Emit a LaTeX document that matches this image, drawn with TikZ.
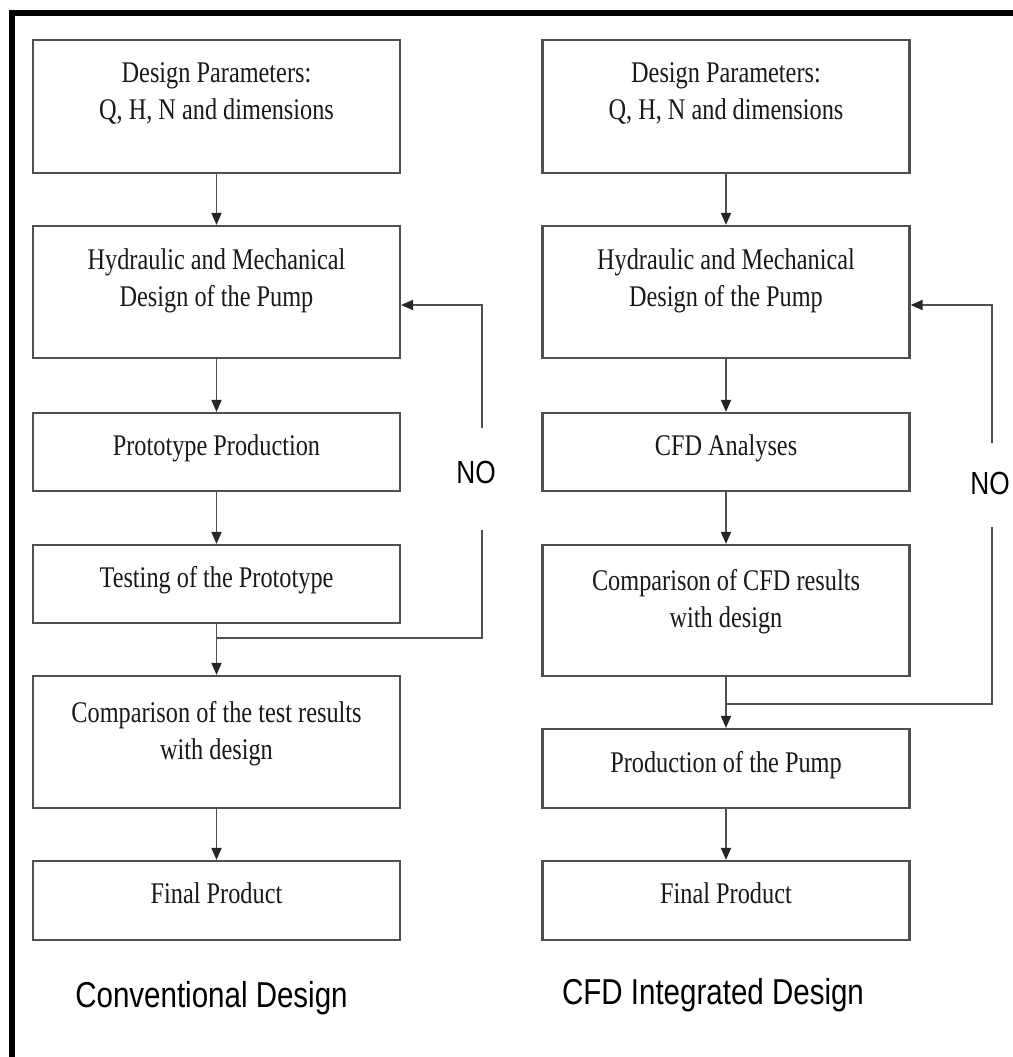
\documentclass[tikz,border=0pt]{standalone}
\usepackage{fontspec}
\setmainfont[FakeStretch=0.81]{Liberation Serif}
\newfontfamily\sansn[FakeStretch=0.82]{Liberation Sans}
\usetikzlibrary{arrows.meta}
\definecolor{edge}{HTML}{505050}
\begin{document}
\begin{tikzpicture}[x=1pt,y=-1pt,
  box/.style={draw=edge,line width=2.2pt,minimum width=367pt,inner sep=0pt,fill=white},
  txt/.style={anchor=north,align=center,inner sep=0pt,text=black!90,font=\fontsize{30}{37}\selectfont},
  lbl/.style={anchor=base,inner sep=0pt,font=\sansn\fontsize{36}{40}\selectfont},
  nolbl/.style={inner sep=0pt,font=\sansn\fontsize{32}{36}\selectfont},
  conn/.style={draw=edge,line width=1.8pt},
  arr/.style={conn,-{Triangle[length=12pt,width=10pt,color=black!85]}}]
\useasboundingbox (0,0) rectangle (1012,1057);
\fill[white] (0,0) rectangle (1012,1057);
% frame
\draw[line width=6pt,black] (12,1060) -- (12,13) -- (1015,13);
% left column boxes
\node[box,minimum height=133pt] (L1) at (216.5,106.5) {};
\node[box,minimum height=132pt] (L2) at (216.5,292) {};
\node[box,minimum height=78pt] (L3) at (216.5,452) {};
\node[box,minimum height=78pt] (L4) at (216.5,584) {};
\node[box,minimum height=132pt] (L5) at (216.5,742) {};
\node[box,minimum height=79pt] (L6) at (216.5,900.5) {};
% right column boxes
\node[box,minimum height=133pt] (R1) at (726,106.5) {};
\node[box,minimum height=132pt] (R2) at (726,292) {};
\node[box,minimum height=78pt] (R3) at (726,452) {};
\node[box,minimum height=131pt] (R4) at (726,610.5) {};
\node[box,minimum height=79pt] (R5) at (726,768.5) {};
\node[box,minimum height=79pt] (R6) at (726,900.5) {};
% texts
\node[txt] (tL1) at (216.5,62) {Design Parameters:\\Q, H, N and dimensions};
\node[txt] (tL2) at (216.5,248) {Hydraulic and Mechanical\\Design of the Pump};
\node[txt] (tL3) at (216.5,434) {Prototype Production};
\node[txt] (tL4) at (216.5,566) {Testing of the Prototype};
\node[txt] (tL5) at (216.5,701) {Comparison of the test results\\with design};
\node[txt] (tL6) at (216.5,882) {Final Product};
\node[txt] (tR1) at (726,62) {Design Parameters:\\Q, H, N and dimensions};
\node[txt] (tR2) at (726,248) {Hydraulic and Mechanical\\Design of the Pump};
\node[txt] (tR3) at (726,434) {CFD Analyses};
\node[txt] (tR4) at (726,569) {Comparison of CFD results\\with design};
\node[txt] (tR5) at (726,751) {Production of the Pump};
\node[txt] (tR6) at (726,882) {Final Product};
% column labels
\node[lbl] (capL) at (211.5,1007) {Conventional Design};
\node[lbl] (capR) at (713,1004) {CFD Integrated Design};
% straight arrows
\draw[arr] (L1) -- (L2);
\draw[arr] (L2) -- (L3);
\draw[arr] (L3) -- (L4);
\draw[arr] (L4) -- (L5);
\draw[arr] (L5) -- (L6);
\draw[arr] (R1) -- (R2);
\draw[arr] (R2) -- (R3);
\draw[arr] (R3) -- (R4);
\draw[arr] (R4) -- (R5);
\draw[arr] (R5) -- (R6);
% feedback loops
\node[nolbl] (noL) at (476,472) {NO};
\node[nolbl] (noR) at (990,483) {NO};
\coordinate (jL) at (216.5,638);
\coordinate (gL1) at (482,530);
\coordinate (gL2) at (482,428);
\coordinate (tipL) at (482,305);
\draw[conn] (jL) -| (gL1);
\draw[arr] (gL2) -- (tipL) -- (L2.east |- tipL);
\coordinate (jR) at (726,704);
\coordinate (gR1) at (992,527);
\coordinate (gR2) at (992,443);
\coordinate (tipR) at (992,305);
\draw[conn] (jR) -| (gR1);
\draw[arr] (gR2) -- (tipR) -- (R2.east |- tipR);
\end{tikzpicture}
\end{document}
